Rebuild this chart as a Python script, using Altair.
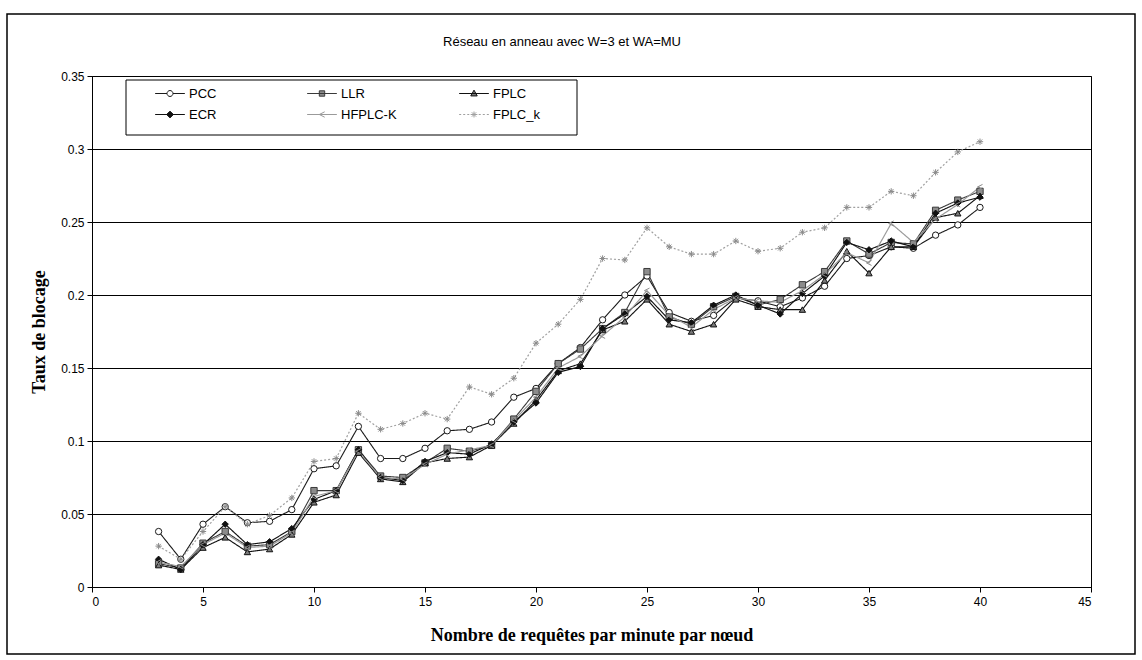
import altair as alt
import pandas as pd

# Requests per minute per node
x_vals = list(range(3, 41))

series_names = ["PCC", "LLR", "FPLC", "ECR", "HFPLC-K", "FPLC_k"]

pcc = [0.038, 0.019, 0.043, 0.055, 0.044, 0.045, 0.053, 0.081, 0.083, 0.110,
       0.088, 0.088, 0.095, 0.107, 0.108, 0.113, 0.130, 0.136, 0.153, 0.164,
       0.183, 0.200, 0.213, 0.188, 0.182, 0.186, 0.198, 0.196, 0.192, 0.198,
       0.206, 0.225, 0.227, 0.233, 0.232, 0.241, 0.248, 0.260]
llr = [0.016, 0.013, 0.030, 0.038, 0.028, 0.029, 0.038, 0.066, 0.066, 0.094,
       0.076, 0.075, 0.085, 0.095, 0.093, 0.097, 0.115, 0.134, 0.153, 0.163,
       0.177, 0.188, 0.216, 0.185, 0.180, 0.192, 0.199, 0.193, 0.197, 0.207,
       0.216, 0.237, 0.228, 0.236, 0.235, 0.258, 0.265, 0.271]
fplc = [0.015, 0.012, 0.027, 0.034, 0.024, 0.026, 0.036, 0.058, 0.063, 0.092,
        0.074, 0.072, 0.085, 0.088, 0.089, 0.097, 0.112, 0.128, 0.148, 0.153,
        0.176, 0.182, 0.197, 0.180, 0.175, 0.180, 0.197, 0.192, 0.190, 0.190,
        0.210, 0.230, 0.215, 0.233, 0.233, 0.253, 0.256, 0.268]
ecr = [0.019, 0.012, 0.029, 0.043, 0.029, 0.031, 0.040, 0.060, 0.066, 0.094,
       0.075, 0.073, 0.086, 0.092, 0.091, 0.098, 0.113, 0.126, 0.147, 0.151,
       0.177, 0.187, 0.199, 0.183, 0.181, 0.193, 0.200, 0.193, 0.187, 0.201,
       0.213, 0.236, 0.231, 0.237, 0.233, 0.256, 0.263, 0.267]
hfplc_k = [0.017, 0.014, 0.029, 0.037, 0.027, 0.028, 0.037, 0.062, 0.066, 0.093,
           0.075, 0.074, 0.084, 0.091, 0.094, 0.097, 0.114, 0.130, 0.150, 0.158,
           0.172, 0.185, 0.203, 0.186, 0.178, 0.190, 0.198, 0.196, 0.195, 0.203,
           0.214, 0.229, 0.222, 0.249, 0.236, 0.252, 0.262, 0.274]
fplc_k = [0.028, 0.019, 0.038, 0.055, 0.043, 0.049, 0.061, 0.086, 0.088, 0.119,
          0.108, 0.112, 0.119, 0.115, 0.137, 0.132, 0.143, 0.167, 0.180, 0.197,
          0.225, 0.224, 0.246, 0.233, 0.228, 0.228, 0.237, 0.230, 0.232, 0.243,
          0.246, 0.260, 0.260, 0.271, 0.268, 0.284, 0.298, 0.305]

y_ticks = [0, 0.05, 0.1, 0.15, 0.2, 0.25, 0.3, 0.35]
x_ticks = list(range(0, 46, 5))

chart_title = "Réseau en anneau avec W=3 et WA=MU"

values_by_series = dict(zip(series_names, [pcc, llr, fplc, ecr, hfplc_k, fplc_k]))
rows = [
    {"x": xv, "taux": yv, "serie": name}
    for name in series_names
    for xv, yv in zip(x_vals, values_by_series[name])
]
df = pd.DataFrame(rows)

# Line and marker styles, one per series
line_colors = ["#1a1a1a", "#3a3a3a", "#111111", "#111111", "#9a9a9a", "#a0a0a0"]
line_dashes = [[1, 0], [1, 0], [1, 0], [1, 0], [1, 0], [2, 2]]
line_widths = [1.1, 1.2, 1.1, 1.5, 1, 1]
marker_fills = ["white", "#8c8c8c", "#7a7a7a", "#111111", "transparent", "transparent"]
marker_strokes = ["#1a1a1a", "#3a3a3a", "#111111", "#111111", "#8a8a8a", "#8a8a8a"]
chevron = "M0.8,-0.8L-0.8,0L0.8,0.8"
asterisk = "M-1,0L1,0M0,-1L0,1M-0.7,-0.7L0.7,0.7M-0.7,0.7L0.7,-0.7"
marker_shapes = ["circle", "square", "triangle-up", "diamond", chevron, asterisk]

# Legend symbols: a short line with the marker in its middle
legend_paths = [
    "M-1.1,0H-0.22M0.22,0H1.1M-0.22,0A0.22,0.22 0 1,1 0.22,0A0.22,0.22 0 1,1 -0.22,0Z",
    "M-1.1,0H1.1M-0.2,-0.2H0.2V0.2H-0.2Z",
    "M-1.1,0H1.1M0,-0.25L0.24,0.18H-0.24Z",
    "M-1.1,0H1.1M0,-0.25L0.25,0L0,0.25L-0.25,0Z",
    "M-1.1,0H1.1M0.2,-0.2L-0.2,0L0.2,0.2",
    "M-1.1,0H-0.95M-0.8,0H-0.65M-0.5,0H-0.35M0.35,0H0.5M0.65,0H0.8M0.95,0H1.1"
    "M-0.25,0H0.25M0,-0.22V0.22M-0.16,-0.16L0.16,0.16M-0.16,0.16L0.16,-0.16",
]

x_enc = alt.X(
    "x:Q",
    scale=alt.Scale(domain=[0, 45], nice=False, zero=True),
    axis=alt.Axis(
        values=x_ticks, title="Nombre de requêtes par minute par nœud",
        grid=False, tickSize=5, labelPadding=4, titlePadding=19,
        labelFont="Liberation Sans", labelFontSize=12,
        titleFont="Liberation Serif", titleFontSize=18, titleFontWeight="bold",
    ),
)
y_enc = alt.Y(
    "taux:Q",
    scale=alt.Scale(domain=[0, 0.35], nice=False, zero=True),
    axis=alt.Axis(
        values=y_ticks, format=".2~f", title="Taux de blocage",
        grid=True, gridColor="black", gridWidth=1, gridOpacity=1,
        tickSize=5, labelPadding=3, titlePadding=12,
        labelFont="Liberation Sans", labelFontSize=12,
        titleFont="Liberation Serif", titleFontSize=18, titleFontWeight="bold",
    ),
)

lines = alt.Chart(df).mark_line(interpolate="linear").encode(
    x=x_enc,
    y=y_enc,
    stroke=alt.Stroke("serie:N", scale=alt.Scale(domain=series_names, range=line_colors), legend=None),
    strokeDash=alt.StrokeDash("serie:N", scale=alt.Scale(domain=series_names, range=line_dashes), legend=None),
    strokeWidth=alt.StrokeWidth("serie:N", scale=alt.Scale(domain=series_names, range=line_widths), legend=None),
)

points = alt.Chart(df).mark_point(size=40, strokeWidth=1, opacity=1).encode(
    x="x:Q",
    y="taux:Q",
    shape=alt.Shape("serie:N", scale=alt.Scale(domain=series_names, range=marker_shapes), legend=None),
    fill=alt.Fill("serie:N", scale=alt.Scale(domain=series_names, range=marker_fills), legend=None),
    stroke=alt.Stroke("serie:N", scale=alt.Scale(domain=series_names, range=marker_strokes), legend=None),
)

legend_box = alt.Chart(alt.Data(values=[{}])).mark_rect(
    fill="white", stroke="black", strokeWidth=1
).encode(x=alt.value(34), x2=alt.value(485), y=alt.value(4), y2=alt.value(59))

chart_frame = alt.Chart(alt.Data(values=[{}])).mark_rect(
    fillOpacity=0, stroke="black", strokeWidth=1.5
).encode(x=alt.value(-85), x2=alt.value(1043), y=alt.value(-62), y2=alt.value(578))

title_text = alt.Chart(alt.Data(values=[{"t": chart_title}])).mark_text(
    font="Liberation Sans", fontSize=13, color="black", align="center", baseline="middle"
).encode(text="t:N", x=alt.value(470), y=alt.value(-34))

leg = alt.Legend(
    orient="none", legendX=64, legendY=3.5, direction="horizontal", columns=3,
    title=None, symbolSize=729, symbolStrokeWidth=1, symbolOpacity=1,
    labelFont="Liberation Sans", labelFontSize=13, labelColor="black",
    labelOffset=5, columnPadding=60, rowPadding=0, padding=0, gridAlign="all",
)
legend_layer = alt.Chart(pd.DataFrame({"serie": series_names})).mark_point(
    opacity=0, size=10
).encode(
    fill=alt.Fill("serie:N", scale=alt.Scale(domain=series_names, range=marker_fills), legend=leg),
    stroke=alt.Stroke("serie:N", scale=alt.Scale(domain=series_names, range=line_colors), legend=leg),
    shape=alt.Shape("serie:N", scale=alt.Scale(domain=series_names, range=legend_paths), legend=leg),
)

chart = alt.layer(chart_frame, title_text, lines, points, legend_box, legend_layer).resolve_scale(
    shape="independent", fill="independent", stroke="independent",
    strokeDash="independent", strokeWidth="independent",
).properties(
    width=999,
    height=511,
    padding={"left": 92, "top": 76, "right": 51, "bottom": 73},
    autosize=alt.AutoSizeParams(type="none"),
).configure_view(
    stroke="black", strokeWidth=1
).configure_axis(
    domainColor="black", tickColor="black", labelColor="black", titleColor="black",
)

chart.save("out.html", embed_options={"renderer": "svg", "actions": False})
